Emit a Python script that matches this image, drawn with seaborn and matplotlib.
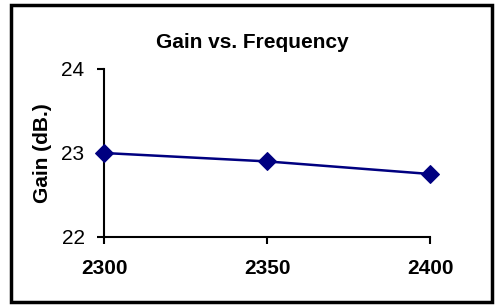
import matplotlib
matplotlib.use("Agg")
import matplotlib.pyplot as plt
import seaborn as sns
import pandas as pd
from matplotlib.patches import Rectangle

frequency = [2300, 2350, 2400]
gain = [23.0, 22.9, 22.75]
y_ticks = [22, 23, 24]
x_ticks = [2300, 2350, 2400]

sns.set_style("white")
plt.rcParams['font.family'] = ['Liberation Sans', 'DejaVu Sans']
plt.rcParams['text.color'] = 'black'
plt.rcParams['xtick.color'] = 'black'
plt.rcParams['ytick.color'] = 'black'
plt.rcParams['axes.labelcolor'] = 'black'

df = pd.DataFrame({"Frequency": frequency, "Gain": gain})

fig = plt.figure(figsize=(4.95, 3.05), dpi=100)
ax = fig.add_axes([104/495, 1-237/305, (430-104)/495, (237-69)/305])

sns.lineplot(data=df, x="Frequency", y="Gain", ax=ax, color="#000080",
             marker="D", markersize=9, linewidth=1.8, markeredgecolor="#000080",
             clip_on=False, zorder=5)

ax.set_xlim(2300, 2400)
ax.set_ylim(22, 24)
ax.set_xticks(x_ticks)
ax.set_yticks(y_ticks)
ax.set_xticklabels([str(v) for v in x_ticks], fontsize=15, fontweight="bold", color="black")
ax.set_yticklabels([str(v) for v in y_ticks], fontsize=15, color="black")
ax.tick_params(axis="x", bottom=True, direction="out", length=5, width=1.5, pad=11, color="black")
ax.tick_params(axis="y", left=True, direction="out", length=5, width=1.5, pad=9, color="black")
for s in ["top", "right"]:
    ax.spines[s].set_visible(False)
for s in ["left", "bottom"]:
    ax.spines[s].set_linewidth(1.5)
    ax.spines[s].set_color("black")
ax.set_xlabel("")
ax.set_ylabel("")
fig.text(43/495, 1-153/305, "Gain (dB.)", ha="center", va="center", rotation=90,
         fontsize=15, fontweight="bold", color="black")
fig.text(252/495, 1-42/305, "Gain vs. Frequency", ha="center", va="center",
         fontsize=15, fontweight="bold", color="black")

fig.patches.append(Rectangle((11/495, 1-302/305), (492-11)/495, (302-5)/305,
                             transform=fig.transFigure, fill=False,
                             edgecolor="black", linewidth=2.5))

fig.savefig("out.png", dpi=100)
